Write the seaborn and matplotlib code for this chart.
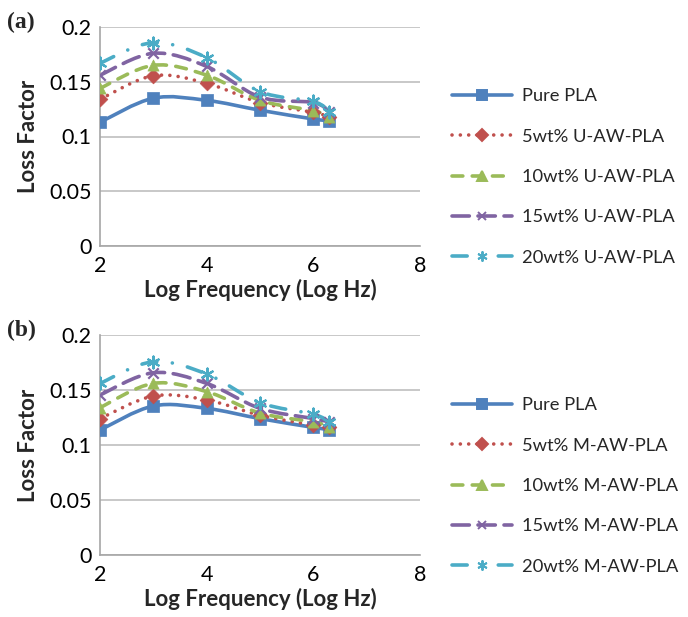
import numpy as np
import pandas as pd
import matplotlib
matplotlib.use("Agg")
import matplotlib.pyplot as plt
from matplotlib.path import Path
from matplotlib.patches import PathPatch
from matplotlib.lines import Line2D
import seaborn as sns

# Log frequency (log Hz) at which loss factor was measured
log_freq = [2, 3, 4, 5, 6, 6.3]

# (a) untreated agave-waste composites
pure_pla_a = [0.113, 0.135, 0.133, 0.124, 0.116, 0.1145]
u5 = [0.134, 0.1555, 0.1486, 0.131, 0.122, 0.118]
u10 = [0.144, 0.165, 0.156, 0.133, 0.1236, 0.118]
u15 = [0.156, 0.176, 0.164, 0.136, 0.131, 0.1227]
u20 = [0.167, 0.1857, 0.172, 0.141, 0.132, 0.1227]

# (b) modified agave-waste composites
pure_pla_b = [0.1136, 0.1355, 0.1333, 0.124, 0.116, 0.114]
m5 = [0.124, 0.1445, 0.141, 0.127, 0.118, 0.116]
m10 = [0.134, 0.156, 0.1485, 0.129, 0.121, 0.1167]
m15 = [0.1455, 0.1657, 0.156, 0.1333, 0.124, 0.121]
m20 = [0.156, 0.1757, 0.1645, 0.1385, 0.128, 0.121]

labels_a = ["Pure PLA", "5wt% U-AW-PLA", "10wt% U-AW-PLA", "15wt% U-AW-PLA", "20wt% U-AW-PLA"]
labels_b = ["Pure PLA", "5wt% M-AW-PLA", "10wt% M-AW-PLA", "15wt% M-AW-PLA", "20wt% M-AW-PLA"]

colors = ["#4F81BD", "#C0504D", "#9BBB59", "#8064A2", "#4BACC6"]
dashes = ["-", (0, (0.01, 2.3)), (0, (3.0, 2.6)), (0, (4.8, 2.4)), (0, (4.2, 4.3, 0.01, 4.3))]
markers = ["s", "D", "^", "x", (6, 2, 0)]
msizes = [8, 7.5, 8, 7.5, 8.5]
lw = 2.6

sns.set_style("white")
plt.rcParams["font.family"] = ["Lato", "DejaVu Sans"]

fig = plt.figure(figsize=(6.88, 6.17), dpi=100)


def smooth_path(xs, ys):
    """Cubic Bezier path through the points (Catmull-Rom tangents)."""
    pts = np.column_stack([xs, ys]).astype(float)
    n = len(pts)
    verts = [pts[0]]
    codes = [Path.MOVETO]
    for i in range(n - 1):
        p0 = pts[max(i - 1, 0)]
        p1 = pts[i]
        p2 = pts[i + 1]
        p3 = pts[min(i + 2, n - 1)]
        c1 = p1 + (p2 - p0) / 6.0
        c2 = p2 - (p3 - p1) / 6.0
        verts += [c1, c2, p2]
        codes += [Path.CURVE4] * 3
    return Path(verts, codes)


def panel(rect, series, labels, tag, tag_y, leg_y):
    ax = fig.add_axes(rect)
    for k, ys in enumerate(series):
        df = pd.DataFrame({"freq": log_freq, "loss": ys})
        patch = PathPatch(smooth_path(df["freq"], df["loss"]), fill=False,
                          edgecolor=colors[k], linewidth=lw, linestyle=dashes[k],
                          capstyle="round", joinstyle="round", zorder=2 + k * 0.1)
        ax.add_patch(patch)
        m = markers[k]
        if m == "x" or isinstance(m, tuple):
            sns.scatterplot(data=df, x="freq", y="loss", ax=ax, marker=m,
                            s=msizes[k] ** 2, color=colors[k], linewidth=1.6,
                            zorder=3 + k * 0.1, legend=False)
        else:
            sns.scatterplot(data=df, x="freq", y="loss", ax=ax, marker=m,
                            s=msizes[k] ** 2, color=colors[k], edgecolor=colors[k],
                            linewidth=0.5, zorder=3 + k * 0.1, legend=False)
    ax.set_xlim(2, 8)
    ax.set_ylim(0, 0.2)
    ax.set_xticks([2, 4, 6, 8])
    ax.set_yticks([0, 0.05, 0.1, 0.15, 0.2])
    ax.set_yticklabels(["0", "0.05", "0.1", "0.15", "0.2"])
    ax.yaxis.grid(True, color="#BFBFBF", linewidth=1.2)
    ax.xaxis.grid(False)
    for s in ["top", "right"]:
        ax.spines[s].set_visible(False)
    for s in ["left", "bottom"]:
        ax.spines[s].set_color("#A6A6A6")
        ax.spines[s].set_linewidth(1.2)
    ax.tick_params(axis="both", which="both", direction="out", length=4, width=1.2,
                   color="#A6A6A6", labelsize=15.5, labelcolor="black", pad=2)
    ax.tick_params(axis="x", pad=3)
    ax.set_xlabel("Log Frequency (Log Hz)", fontsize=16, fontweight="bold", labelpad=2)
    ax.set_ylabel("Loss Factor", fontsize=16, fontweight="bold", labelpad=7)
    fig.text(0.010, tag_y, tag, fontsize=17, fontweight="bold",
             family=["Liberation Serif", "DejaVu Serif"], va="center", ha="left")

    handles = []
    for k in range(5):
        handles.append(Line2D([0], [0], color=colors[k], linewidth=lw,
                              linestyle=dashes[k], marker=markers[k],
                              markersize=msizes[k] * 0.85, markeredgewidth=1.4,
                              dash_capstyle="round", solid_capstyle="round"))
    fig.legend(handles, labels, loc="upper left", bbox_to_anchor=(0.647, leg_y),
               frameon=False, fontsize=13.2, handlelength=3.25, handletextpad=0.55,
               labelspacing=1.33, borderaxespad=0, markerfirst=True)
    return ax


panel([100 / 688, 1 - 246 / 617, 320 / 688, 219 / 617],
      [pure_pla_a, u5, u10, u15, u20], labels_a, "(a)", 1 - 22 / 617, 1 - 81 / 617)
panel([100 / 688, 1 - 555 / 617, 320 / 688, 220 / 617],
      [pure_pla_b, m5, m10, m15, m20], labels_b, "(b)", 1 - 330 / 617, 1 - 390 / 617)

fig.savefig("out.png", dpi=100)
